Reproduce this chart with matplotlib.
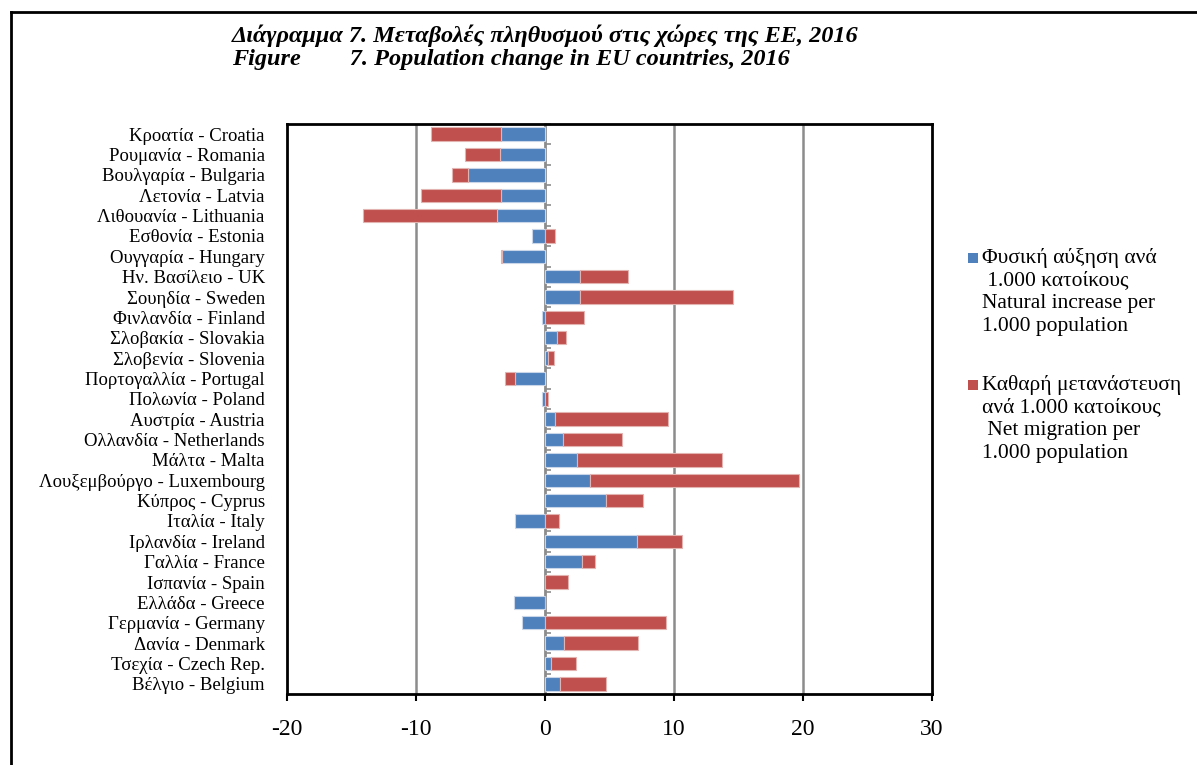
import matplotlib
matplotlib.use("Agg")
import matplotlib.pyplot as plt
from matplotlib.lines import Line2D
from matplotlib.patches import Rectangle
import numpy as np

countries = [
    "Κροατία - Croatia", "Ρουμανία - Romania", "Βουλγαρία - Bulgaria",
    "Λετονία - Latvia", "Λιθουανία - Lithuania", "Εσθονία - Estonia",
    "Ουγγαρία - Hungary", "Ην. Βασίλειο - UK", "Σουηδία - Sweden",
    "Φινλανδία - Finland", "Σλοβακία - Slovakia", "Σλοβενία - Slovenia",
    "Πορτογαλλία - Portugal", "Πολωνία - Poland", "Αυστρία - Austria",
    "Ολλανδία - Netherlands", "Μάλτα - Malta", "Λουξεμβούργο - Luxembourg",
    "Κύπρος - Cyprus", "Ιταλία - Italy", "Ιρλανδία - Ireland",
    "Γαλλία - France", "Ισπανία - Spain", "Ελλάδα - Greece",
    "Γερμανία - Germany", "Δανία - Denmark", "Τσεχία - Czech Rep.",
    "Βέλγιο - Belgium",
]
natural_increase = [-3.4, -3.5, -6.0, -3.4, -3.7, -1.0, -3.3, 2.7, 2.7, -0.25,
                    0.9, 0.2, -2.3, -0.2, 0.8, 1.4, 2.5, 3.5, 4.7, -2.3,
                    7.1, 2.9, 0.0, -2.4, -1.8, 1.5, 0.5, 1.2]
net_migration = [-5.4, -2.7, -1.2, -6.2, -10.4, 0.8, -0.08, 3.7, 11.9, 3.05,
                 0.7, 0.5, -0.8, 0.2, 8.7, 4.6, 11.2, 16.2, 2.9, 1.05,
                 3.5, 1.0, 1.8, 0.0, 9.4, 5.7, 1.9, 3.5]
x_ticks = [-20, -10, 0, 10, 20, 30]

legend_natural = ["Φυσική αύξηση ανά", " 1.000 κατοίκους", "Natural increase per", "1.000 population"]
legend_migration = ["Καθαρή μετανάστευση", "ανά 1.000 κατοίκους", " Net migration per", "1.000 population"]
title1 = "Διάγραμμα 7. Μεταβολές πληθυσμού στις χώρες της ΕΕ, 2016"
title2 = "Figure        7. Population change in EU countries, 2016"

BLUE = "#4F81BD"
RED = "#C0504D"
GRID = "#8C8C8C"

plt.rcParams['font.family'] = ['Liberation Serif', 'DejaVu Serif']

W, H = 1197, 765
fig = plt.figure(figsize=(W / 100, H / 100), dpi=100)
ax = fig.add_axes([287 / W, 1 - 694 / H, (932 - 287) / W, (694 - 124) / H])

nat = np.array(natural_increase)
mig = np.array(net_migration)
y = np.arange(len(countries))
mig_left = np.where(mig >= 0, np.maximum(nat, 0), np.minimum(nat, 0))

bh = 0.66
ax.barh(y, nat, height=bh, color=BLUE, edgecolor="#C9D6EA", linewidth=0.8, zorder=3)
ax.barh(y, mig, left=mig_left, height=bh, color=RED, edgecolor="#E3B3B2", linewidth=0.8, zorder=3)

ax.set_xlim(x_ticks[0], x_ticks[-1])
ax.set_ylim(len(countries) - 0.5, -0.5)
ax.set_xticks(x_ticks)
ax.set_xticklabels([str(t) for t in x_ticks], fontsize=17)
ax.set_yticks(y)
ax.set_yticklabels(countries, fontsize=13.5)
ax.tick_params(axis='y', length=0, pad=16)
ax.tick_params(axis='x', length=5, width=1.5, color='black', pad=13, direction='out')

for xv in x_ticks[1:-1]:
    if xv != 0:
        ax.axvline(xv, color=GRID, linewidth=1.8, zorder=1)

for sp in ax.spines.values():
    sp.set_color('black')
    sp.set_linewidth(2)

# zero axis with small ticks between categories
sec = ax.secondary_yaxis((0 - x_ticks[0]) / (x_ticks[-1] - x_ticks[0]))
sec.set_yticks(np.arange(len(countries) + 1) - 0.5)
sec.tick_params(direction='in', length=4, width=1.2, color=GRID, labelleft=False, labelright=False)
sec.spines['left'].set_color(GRID)
sec.spines['left'].set_linewidth(2)

# titles
fig.text(232 / W, 1 - 36 / H, title1, fontsize=17.5, fontweight='bold', fontstyle='italic', va='center', ha='left')
fig.text(232 / W, 1 - 60 / H, title2, fontsize=17.5, fontweight='bold', fontstyle='italic', va='center', ha='left')

# legend (manual)
def legend_block(lines, color, y0):
    fig.patches.append(Rectangle((968 / W, 1 - (y0 + 5) / H), 10 / W, 10 / H,
                                 transform=fig.transFigure, facecolor=color, edgecolor='none'))
    for i, t in enumerate(lines):
        fig.text(982 / W, 1 - (y0 + i * 22.7) / H, t, fontsize=15.5, va='center', ha='left')

legend_block(legend_natural, BLUE, 258)
legend_block(legend_migration, RED, 385)

# outer frame (left and top edges visible)
fig.lines.append(Line2D([11 / W, 11 / W], [0, 1 - 12 / H], transform=fig.transFigure, color='black', linewidth=2))
fig.lines.append(Line2D([11 / W, 1], [1 - 12 / H, 1 - 12 / H], transform=fig.transFigure, color='black', linewidth=2))

fig.savefig("out.png", dpi=100)
